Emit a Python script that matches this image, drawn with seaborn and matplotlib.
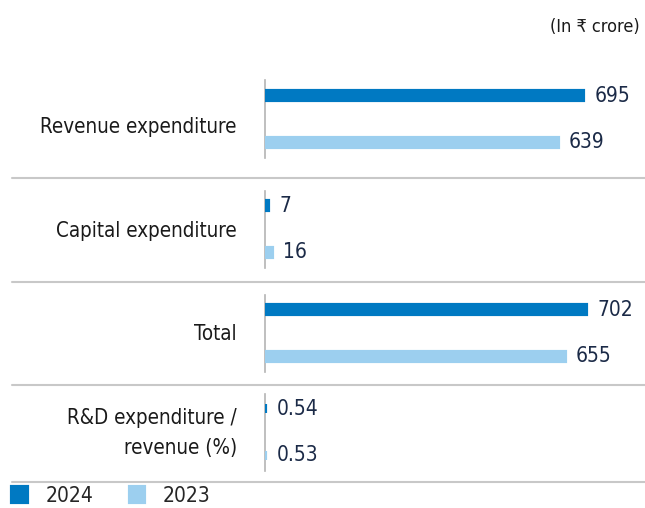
#!/usr/bin/env python3
"""R&D expenditure, 2024 vs 2023 (In Rs crore)."""

import matplotlib

matplotlib.use("Agg")

import matplotlib.pyplot as plt
import pandas as pd
import seaborn as sns
from matplotlib.lines import Line2D

categories = [
    "Revenue expenditure",
    "Capital expenditure",
    "Total",
    "R&D expenditure /\nrevenue (%)",
]
values_2024 = [695, 7, 702, 0.54]
values_2023 = [639, 16, 655, 0.53]
years = ["2024", "2023"]
label_formats = ["{:.0f}", "{:.0f}", "{:.0f}", "{:.2f}"]

colors = {"2024": "#0079c2", "2023": "#9ccfef"}
W, H = 645, 508

sns.set_theme(style="white")
plt.rcParams["font.family"] = ["DejaVu Sans"]
plt.rcParams["font.stretch"] = "condensed"

frame = pd.DataFrame(
    {
        "category": categories * 2,
        "year": [years[0]] * len(categories) + [years[1]] * len(categories),
        "value": values_2024 + values_2023,
    }
)

fig = plt.figure(figsize=(W / 100, H / 100), dpi=100)

# group centres and label band centres in pixels (from top)
centres = [119, 229, 333, 432]
label_y = [127, 231, 334, 433]
half = 38.5
for i, cat in enumerate(categories):
    top = centres[i] - half
    ax = fig.add_axes([265 / W, 1 - (top + 2 * half) / H, (W - 265) / W, 2 * half / H])
    sub = frame[frame["category"] == cat]
    sns.barplot(
        data=sub,
        x="value",
        y="category",
        hue="year",
        hue_order=years,
        palette=colors,
        saturation=1,
        orient="h",
        gap=0.8,
        linewidth=3,
        ax=ax,
        legend=(i == 0),
    )
    for patch in ax.patches:
        patch.set_edgecolor(patch.get_facecolor())
    for cont in ax.containers:
        ax.bar_label(cont, fmt=label_formats[i], padding=8, fontsize=15, color="#1b2a47")
    ax.set_xlim(0, 830)
    ax.set_ylim(0.328, -0.328)
    ax.set_xlabel("")
    ax.set_ylabel("")
    ax.set_xticks([])
    ax.set_yticks([])
    for side in ["top", "right", "bottom"]:
        ax.spines[side].set_visible(False)
    ax.spines["left"].set_color("#b4b4b4")
    ax.spines["left"].set_linewidth(1.2)
    ax.spines["left"].set_zorder(0.5)
    if i == 0:
        handles, labels = ax.get_legend_handles_labels()
        ax.get_legend().remove()
    fig.text(237 / W, 1 - label_y[i] / H, cat, ha="right", va="center",
             multialignment="right", linespacing=1.6, fontsize=14.8,
             color="#1a1a1a")

for y in [178, 282, 385, 482]:
    fig.add_artist(
        Line2D([12 / W, 1], [1 - y / H] * 2, transform=fig.transFigure,
               color="#c8c8c8", linewidth=1.5)
    )

fig.text(640 / W, 1 - 27 / H, "(In ₹ crore)", ha="right", va="center",
         fontsize=13, color="#1a1a1a")

fig.legend(
    handles, labels, loc="lower left", bbox_to_anchor=(10 / W, 0),
    ncol=2, frameon=False, fontsize=15, handlelength=0.7, handleheight=0.7,
    handletextpad=0.9, columnspacing=1.75, borderpad=0.1, borderaxespad=0,
)

fig.savefig("out.png", dpi=100)
